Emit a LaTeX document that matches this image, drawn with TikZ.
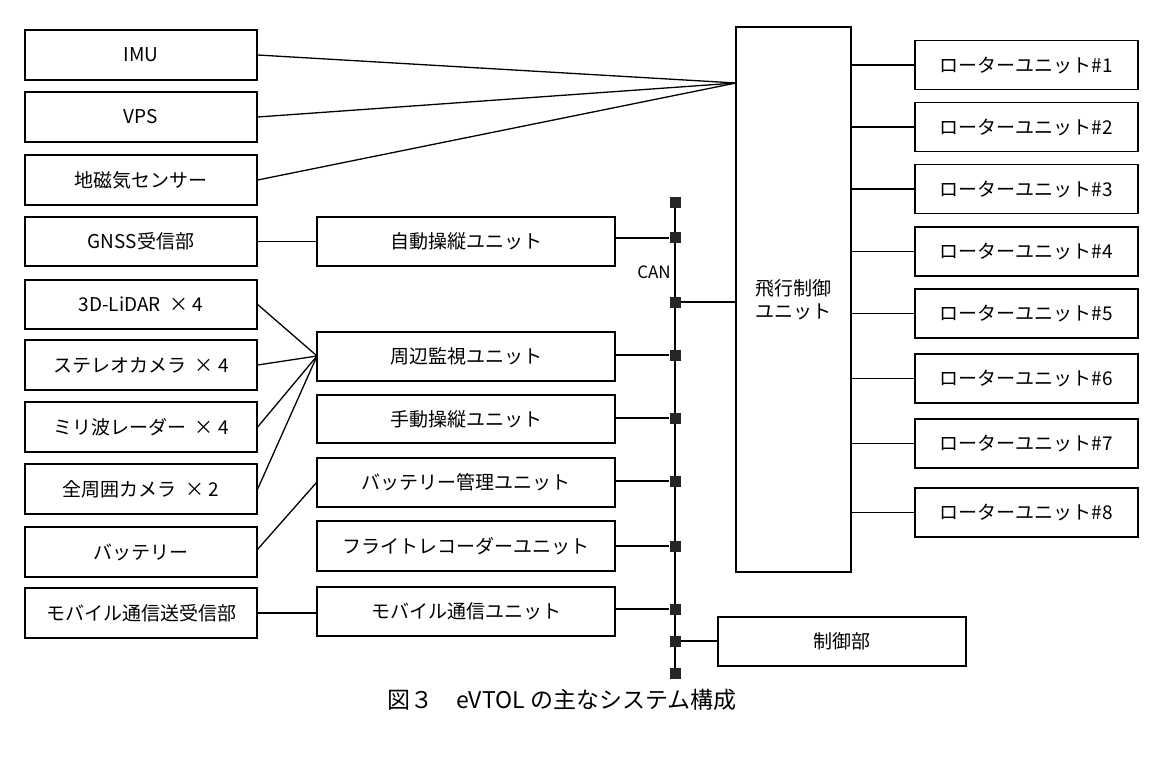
\documentclass[tikz,border=0pt]{standalone}
\usepackage{fontspec}
\setmainfont{Noto Sans CJK JP}
\begin{document}
\begin{tikzpicture}[x=1pt,y=-1pt,
 bx/.style={draw,line width=1.3pt,inner sep=0pt,font=\fontsize{19}{23}\selectfont},
 ln/.style={line width=1.3pt},
 sq/.style={fill=black!85,minimum size=11pt,inner sep=0pt}]
\useasboundingbox (0,0) rectangle (1169,759);
\newcommand{\bxx}[6]{\node[bx,minimum width=#4-#2,minimum height=#5-#3] (#1) at ({(#2+#4)/2},{(#3+#5)/2}) {#6};}
\bxx{imu}{25}{30}{257}{80}{IMU}
\bxx{vps}{25}{92}{257}{142}{VPS}
\bxx{mag}{25}{155}{257}{205}{地磁気センサー}
\bxx{gnss}{25}{217}{257}{266}{GNSS受信部}
\bxx{lid}{25}{280}{257}{329}{3D-LiDAR\ \ ×\ 4}
\bxx{ste}{25}{340}{257}{390}{ステレオカメラ\ \ ×\ 4}
\bxx{mil}{25}{402}{257}{452}{ミリ波レーダー\ \ ×\ 4}
\bxx{zen}{25}{464}{257}{514}{全周囲カメラ\ \ ×\ 2}
\bxx{bat}{25}{527}{257}{577}{バッテリー}
\bxx{mob}{25}{588}{257}{638}{モバイル通信送受信部}
\bxx{aut}{317}{217}{615}{266}{自動操縦ユニット}
\bxx{sur}{317}{332}{615}{381}{周辺監視ユニット}
\bxx{man}{317}{395}{615}{443}{手動操縦ユニット}
\bxx{bms}{317}{458}{615}{507}{バッテリー管理ユニット}
\bxx{flr}{317}{521}{615}{571}{フライトレコーダーユニット}
\bxx{mcu}{317}{587}{615}{636}{モバイル通信ユニット}
\node[bx,minimum width=115,minimum height=545,align=center] (fcu) at (793.5,299.5) {飛行制御\\ユニット};
\bxx{ctl}{718}{617}{966}{666}{制御部}
\foreach \i/\y in {1/65,2/127,3/189,4/251.5,5/313.5,6/378.5,7/443.5,8/512.5}{
 \node[bx,minimum width=223,minimum height=49] (r\i) at (1026.5,\y) {ローターユニット\#\i};
 \draw[ln] (851,\y) -- (r\i.west);}
\coordinate (cv) at (736,83);
\foreach \n in {imu,vps,mag} \draw[ln] (\n.east) -- (cv);
\coordinate (sv) at (317,356);
\foreach \n in {lid,ste,mil,zen} \draw[ln] (\n.east) -- (sv);
\draw[ln] (257,550) -- (317,482);
\draw[ln] (gnss.east) -- (gnss.east -| aut.west);
\draw[ln] (mob.east) -- (mob.east -| mcu.west);
\draw[ln] (675,200) -- (675,675);
\foreach \y in {203,238,302,355,418,481,546,609,641,673} \node[sq] (s\y) at (675,\y) {};
\draw[ln] (615,238) -- (s238);
\draw[ln] (s302) -- (736,302);
\draw[ln] (615,355) -- (s355);
\draw[ln] (615,418) -- (s418);
\draw[ln] (615,481) -- (s481);
\draw[ln] (615,546) -- (s546);
\draw[ln] (615,609) -- (s609);
\draw[ln] (s641) -- (ctl.west |- s641);
\node[font=\fontsize{17}{20}\selectfont] (can) at (654,272) {CAN};
\node[font=\fontsize{23}{27}\selectfont] (cap) at (562,700) {図３　eVTOL の主なシステム構成};
\end{tikzpicture}
\end{document}
